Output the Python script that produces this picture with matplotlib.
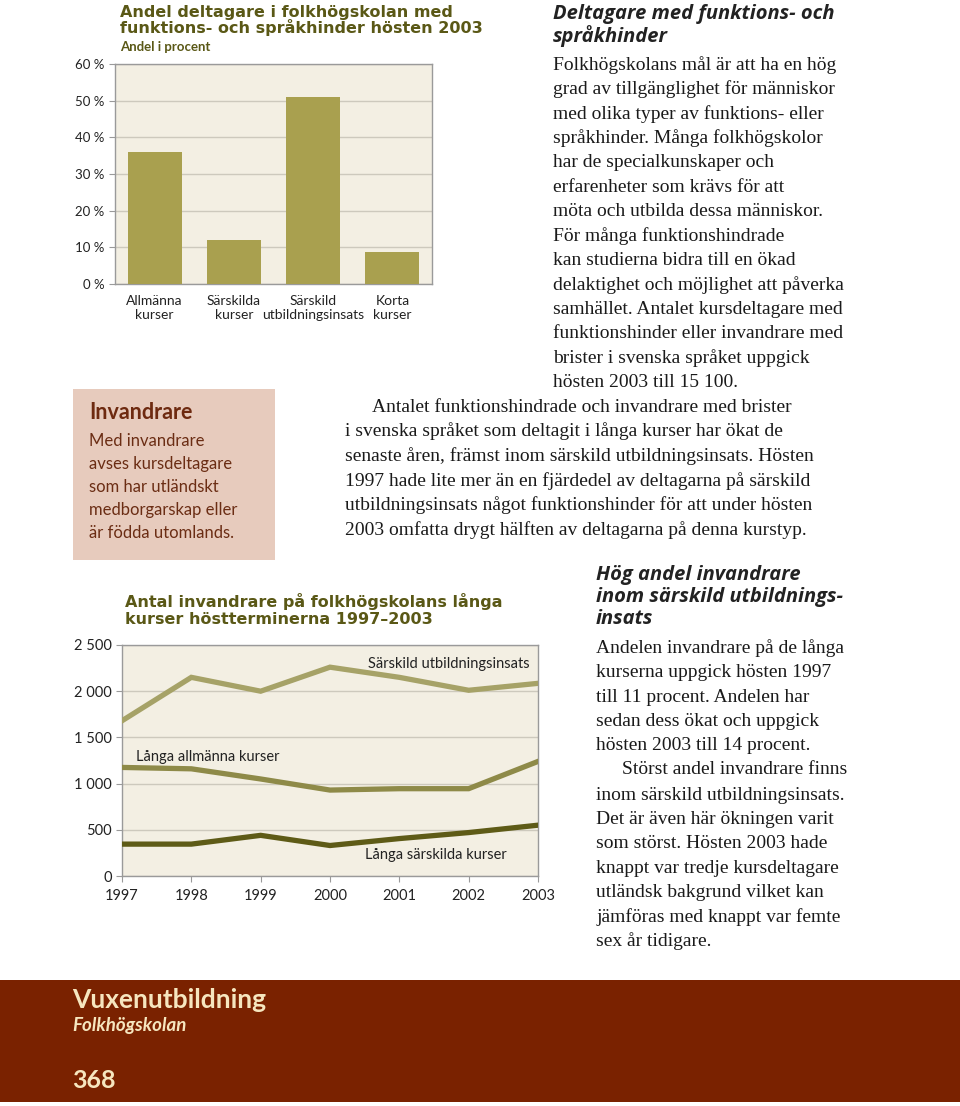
import matplotlib.pyplot as plt
from matplotlib.patches import Rectangle
import numpy as np

# --- Data ---
bar_kategorier = ["Allmänna\nkurser", "Särskilda\nkurser", "Särskild\nutbildningsinsats", "Korta\nkurser"]
bar_andel = [36, 12, 51, 8.7]
bar_yticks = [0, 10, 20, 30, 40, 50, 60]

ar = [1997, 1998, 1999, 2000, 2001, 2002, 2003]
sarskild_utb = [1680, 2150, 2000, 2260, 2150, 2010, 2085]
langa_allmanna = [1175, 1160, 1050, 930, 945, 945, 1240]
langa_sarskilda = [345, 345, 440, 330, 405, 470, 550]
line_yticks = [0, 500, 1000, 1500, 2000, 2500]

W, H = 960, 1106
SANS = "Lato"
TUNG = "DejaVu Sans"
RUBRIK = "Open Sans"
SERIF = "Liberation Serif"
OLIV_MORK = "#5a5816"
BAR_FARG = "#a9a04f"
BG = "#f3efe3"
GRID = "#cdc9bd"
BRUN = "#6e2a10"
BROD = 14

fig = plt.figure(figsize=(W / 100, H / 100), dpi=100)


def px_ax(left, top, right, bottom):
    return fig.add_axes([left / W, 1 - bottom / H, (right - left) / W, (bottom - top) / H])


def txt(x, y, s, **kw):
    kw.setdefault("va", "center")
    kw.setdefault("ha", "left")
    fig.text(x / W, 1 - y / H, s, **kw)


def style_ax(ax):
    ax.set_facecolor(BG)
    for sp in ax.spines.values():
        sp.set_color("#9a9a9a")
        sp.set_linewidth(1.0)
    ax.grid(True, axis="y", color=GRID, linewidth=1.0)
    ax.set_axisbelow(True)
    ax.tick_params(axis="both", colors="#9a9a9a", labelcolor="#222222", length=4,
                   labelsize=9.5)
    for lab in ax.get_yticklabels() + ax.get_xticklabels():
        lab.set_family(SANS)


# --- Stapeldiagram ---
ax1 = px_ax(115, 64, 432, 284)
x = np.arange(len(bar_kategorier))
ax1.bar(x, bar_andel, width=0.68, color=BAR_FARG, zorder=3)
ax1.set_xlim(-0.5, 3.5)
ax1.set_ylim(0, 60)
ax1.set_yticks(bar_yticks)
ax1.set_yticklabels([f"{v} %" for v in bar_yticks])
ax1.set_xticks(x)
ax1.set_xticklabels(bar_kategorier, linespacing=1.15)
style_ax(ax1)
ax1.tick_params(axis="x", length=0, pad=8, labelsize=10)

txt(120, 12, "Andel deltagare i folkhögskolan med", family=TUNG, weight="bold",
    size=11.5, color=OLIV_MORK)
txt(120, 28, "funktions- och språkhinder hösten 2003", family=TUNG, weight="bold",
    size=11.5, color=OLIV_MORK)
txt(120, 47, "Andel i procent", family=SANS, weight="bold", size=9.5, color=OLIV_MORK)

# --- Linjediagram ---
ax2 = px_ax(122, 645, 538, 876)
ax2.plot(ar, sarskild_utb, color="#a6a267", linewidth=3.8, solid_joinstyle="miter", zorder=3)
ax2.plot(ar, langa_allmanna, color="#8e8a48", linewidth=3.8, solid_joinstyle="miter", zorder=3)
ax2.plot(ar, langa_sarskilda, color="#5e5b17", linewidth=3.8, solid_joinstyle="miter", zorder=3)
ax2.set_xlim(1997, 2003)
ax2.set_ylim(0, 2500)
ax2.set_xticks(ar)
ax2.set_yticks(line_yticks)
ax2.set_yticklabels([f"{v:,}".replace(",", " ") for v in line_yticks])
style_ax(ax2)
ax2.tick_params(axis="x", labelsize=10.5, pad=5)
ax2.tick_params(axis="y", labelsize=10.5)
for lab in ax2.get_yticklabels() + ax2.get_xticklabels():
    lab.set_family(SANS)

ax2.text(2000.55, 2290, "Särskild utbildningsinsats", family=SANS, size=10.5,
         color="#222222", va="center")
ax2.text(1997.2, 1290, "Långa allmänna kurser", family=SANS, size=10.5,
         color="#222222", va="center")
ax2.text(2000.5, 225, "Långa särskilda kurser", family=SANS, size=10.5,
         color="#222222", va="center")

txt(125, 602, "Antal invandrare på folkhögskolans långa", family=TUNG, weight="bold",
    size=11.5, color=OLIV_MORK)
txt(125, 619, "kurser höstterminerna 1997–2003", family=TUNG, weight="bold",
    size=11.5, color=OLIV_MORK)

# --- Faktaruta Invandrare ---
fig.patches.append(Rectangle((73 / W, 1 - 560 / H), (275 - 73) / W, (560 - 389) / H,
                             transform=fig.transFigure, facecolor="#e7cbbd",
                             edgecolor="none", zorder=0))
txt(89, 412, "Invandrare", family=SANS, weight="bold", size=15.5, color=BRUN)
ruta = ["Med invandrare", "avses kursdeltagare", "som har utländskt",
        "medborgarskap eller", "är födda utomlands."]
for i, rad in enumerate(ruta):
    txt(89, 441 + i * 23, rad, family=SANS, size=12, color="#6b2d14")

# --- Brödtext ---
txt(553, 14, "Deltagare med funktions- och", family=RUBRIK, weight="bold",
    style="italic", size=14.5, color="#222222")
txt(553, 36, "språkhinder", family=RUBRIK, weight="bold", style="italic",
    size=14.5, color="#222222")
stycke1 = ["Folkhögskolans mål är att ha en hög",
           "grad av tillgänglighet för människor",
           "med olika typer av funktions- eller",
           "språkhinder. Många folkhögskolor",
           "har de specialkunskaper och",
           "erfarenheter som krävs för att",
           "möta och utbilda dessa människor.",
           "För många funktionshindrade",
           "kan studierna bidra till en ökad",
           "delaktighet och möjlighet att påverka",
           "samhället. Antalet kursdeltagare med",
           "funktionshinder eller invandrare med",
           "brister i svenska språket uppgick",
           "hösten 2003 till 15 100."]
for i, rad in enumerate(stycke1):
    txt(553, 65 + i * 24.4, rad, family=SERIF, size=BROD, color="#1a1a1a")

stycke2 = ["i svenska språket som deltagit i långa kurser har ökat de",
           "senaste åren, främst inom särskild utbildningsinsats. Hösten",
           "1997 hade lite mer än en fjärdedel av deltagarna på särskild",
           "utbildningsinsats något funktionshinder för att under hösten",
           "2003 omfatta drygt hälften av deltagarna på denna kurstyp."]
txt(372, 407, "Antalet funktionshindrade och invandrare med brister",
    family=SERIF, size=BROD, color="#1a1a1a")
for i, rad in enumerate(stycke2):
    txt(345, 431.5 + i * 24.6, rad, family=SERIF, size=BROD, color="#1a1a1a")

rubrik2 = ["Hög andel invandrare", "inom särskild utbildnings-", "insats"]
for i, rad in enumerate(rubrik2):
    txt(596, 575 + i * 22, rad, family=RUBRIK, weight="bold", style="italic",
        size=14.5, color="#222222")
stycke3 = ["Andelen invandrare på de långa",
           "kurserna uppgick hösten 1997",
           "till 11 procent. Andelen har",
           "sedan dess ökat och uppgick",
           "hösten 2003 till 14 procent."]
for i, rad in enumerate(stycke3):
    txt(596, 648 + i * 24.5, rad, family=SERIF, size=BROD, color="#1a1a1a")
stycke4 = ["inom särskild utbildningsinsats.",
           "Det är även här ökningen varit",
           "som störst. Hösten 2003 hade",
           "knappt var tredje kursdeltagare",
           "utländsk bakgrund vilket kan",
           "jämföras med knappt var femte",
           "sex år tidigare."]
txt(622, 770, "Störst andel invandrare finns", family=SERIF, size=BROD, color="#1a1a1a")
for i, rad in enumerate(stycke4):
    txt(596, 795 + i * 24.4, rad, family=SERIF, size=BROD, color="#1a1a1a")

# --- Sidfot ---
fig.patches.append(Rectangle((0, 1 - 1102 / H), 1, (1102 - 980) / H,
                             transform=fig.transFigure, facecolor="#7a2200",
                             edgecolor="none", zorder=0))
CREME = "#f6e6bf"
txt(72, 1000, "Vuxenutbildning", family=SANS, weight="bold", size=19, color=CREME)
txt(72, 1025, "Folkhögskolan", family=SANS, weight="bold", style="italic",
    size=13.5, color=CREME)
txt(72, 1081, "368", family=SANS, weight="bold", size=18, color=CREME)

fig.savefig("out.png", dpi=100)
